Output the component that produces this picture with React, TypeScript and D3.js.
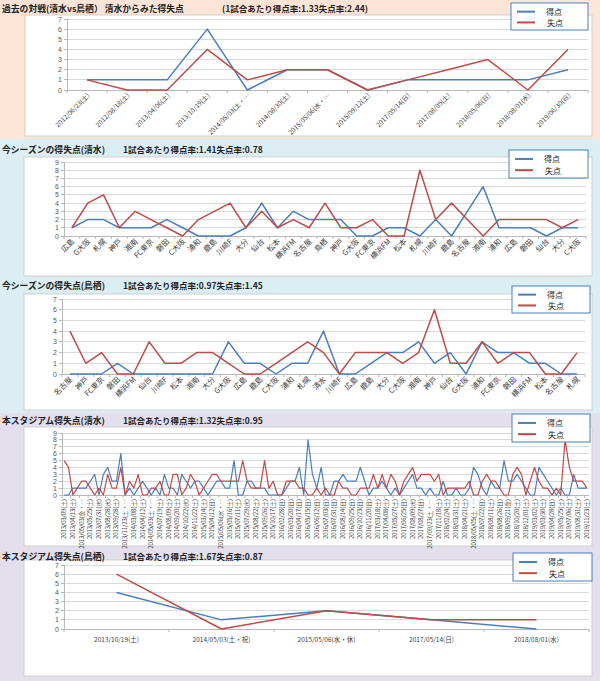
import React from "react";
import * as d3 from "d3";

const BLUE = "#4a7ebb";
const RED = "#be4b48";
const FONT = "'Noto Sans CJK JP', 'Noto Sans', sans-serif";

// ---------- Panel 1: past matches ----------
const p1Dates = [
  "2012/06/23(土)", "2012/08/18(土)", "2013/04/06(土)", "2013/10/19(土)", "2014/05/03(土・…",
  "2014/08/30(土)", "2015/05/06(水・…", "2015/09/12(土)", "2017/05/14(日)", "2017/08/05(土)",
  "2018/05/06(日)", "2018/08/01(水)", "2019/06/30(日)",
];
const p1Scored = [1, 1, 1, 6, 0, 2, 2, 0, 1, 1, 1, 1, 2];
const p1Conceded = [1, 0, 0, 4, 1, 2, 2, 0, 1, 2, 3, 0, 4];

// ---------- Panel 2: this season Shimizu ----------
const p2Teams = [
  "広島", "G大阪", "札幌", "神戸", "湘南", "FC東京", "磐田", "C大阪", "浦和", "鹿島", "川崎F",
  "大分", "仙台", "松本", "横浜FM", "名古屋", "鳥栖", "神戸", "G大阪", "FC東京", "横浜FM", "松本",
  "札幌", "川崎F", "鹿島", "名古屋", "湘南", "浦和", "広島", "磐田", "仙台", "大分", "C大阪",
];
const p2Scored = [1, 2, 2, 1, 1, 1, 2, 1, 0, 0, 0, 1, 4, 1, 3, 2, 2, 2, 0, 0, 1, 1, 0, 2, 0, 3, 6, 1, 1, 1, 0, 1, 1];
const p2Conceded = [1, 4, 5, 1, 3, 2, 1, 0, 2, 3, 4, 1, 3, 1, 2, 1, 4, 1, 1, 2, 0, 0, 8, 2, 4, 2, 0, 2, 2, 2, 2, 1, 2];

// ---------- Panel 3: this season Tosu ----------
const p3Teams = [
  "名古屋", "神戸", "FC東京", "磐田", "横浜FM", "仙台", "川崎F", "松本", "湘南", "大分", "G大阪",
  "広島", "鹿島", "C大阪", "浦和", "札幌", "清水", "川崎F", "広島", "鹿島", "大分", "C大阪",
  "湘南", "神戸", "仙台", "G大阪", "浦和", "FC東京", "磐田", "横浜FM", "松本", "名古屋", "札幌",
];
const p3Scored = [0, 0, 0, 1, 0, 0, 0, 0, 0, 0, 3, 1, 1, 0, 1, 1, 4, 0, 0, 1, 2, 2, 3, 1, 2, 0, 3, 2, 2, 1, 1, 0, 0];
const p3Conceded = [4, 1, 2, 0, 0, 3, 1, 1, 2, 2, 1, 0, 0, 1, 2, 3, 2, 0, 2, 2, 2, 1, 2, 6, 1, 1, 3, 1, 2, 2, 0, 0, 2];

// ---------- Panel 4: this stadium (Shimizu) ----------
const p4Dates = [
  "2013/03/09(土)", "2013/04/13(土)", "2013/05/03(金・…", "2013/05/25(土)", "2013/07/31(水)",
  "2013/08/28(水)", "2013/09/28(土)", "2013/11/23(土・…", "2014/03/08(土)", "2014/04/12(土)",
  "2014/05/03(土・…", "2014/07/19(土)", "2014/08/09(土)", "2014/09/20(土)", "2014/10/22(水)",
  "2014/11/22(土)", "2015/03/14(土)", "2015/04/12(日)", "2015/05/06(水・…", "2015/05/16(土)",
  "2015/07/11(土)", "2015/07/29(水)", "2015/08/22(土)", "2015/09/26(土)", "2015/10/17(土)",
  "2016/02/28(日)", "2016/03/20(日)", "2016/04/17(日)", "2016/05/15(日)", "2016/06/12(日)",
  "2016/07/03(日)", "2016/07/31(日)", "2016/08/14(日)", "2016/09/25(日)", "2016/10/23(日)",
  "2016/11/20(日)", "2017/03/18(土)", "2017/04/08(土)", "2017/05/27(土)", "2017/06/25(日)",
  "2017/08/09(水)", "2017/08/27(日)", "2017/09/23(土・…", "2017/11/18(土)", "2018/02/24(土)",
  "2018/03/31(土)", "2018/04/21(土)", "2018/05/05(土・…", "2018/07/22(日)", "2018/08/11(土)",
  "2018/08/26(日)", "2018/09/21(金)", "2018/10/20(土)", "2018/12/01(土)", "2019/03/02(土)",
  "2019/03/30(土)", "2019/04/28(日)", "2019/05/25(土)", "2019/07/06(土)", "2019/08/31(土)",
  "2019/11/23(土)",
];
const p4Scored = [
  0, 0, 1, 1, 1, 1, 2, 3, 0, 3, 4, 2, 2, 6, 0, 1, 0, 1, 2, 1, 0, 1, 0, 3, 1, 1, 0, 3, 2, 1, 2,
  2, 1, 0, 1, 2, 2, 1, 1, 5, 0, 0, 2, 2, 1, 1, 1, 0, 0, 0, 0, 1, 2, 2, 4, 0, 8, 3, 1, 4, 0,
  0, 2, 2, 3, 2, 2, 2, 4, 2, 0, 1, 1, 2, 1, 0, 1,
  0, 1, 2, 3, 1, 1, 0, 1, 0, 0, 2, 0, 0, 1, 0, 0, 1, 4, 3, 1, 0, 2, 1, 1, 5, 2, 2, 3, 2, 1,
  0, 0, 4, 3, 2, 1, 0, 1, 0, 0, 3, 1, 1, 1,
];
const p4Conceded = [
  5, 4, 0, 1, 2, 2, 1, 0, 1, 0, 3, 1, 1, 4, 0, 2, 1, 3, 0, 0, 1, 1, 2, 0, 0, 3, 3, 0, 1, 3, 2,
  0, 1, 2, 3, 3, 2, 2, 2, 2, 2, 5, 2, 1, 1, 1, 5, 1, 2, 0, 0, 2, 2, 2, 1, 1, 0, 0, 1, 0, 1,
  0, 0, 2, 1, 1, 0, 0, 1, 1, 1, 3, 1, 3, 1, 3, 2,
  0, 2, 3, 4, 2, 3, 3, 3, 2, 3, 0, 1, 1, 1, 1, 1, 2, 0, 0, 2, 3, 2, 2, 1, 0, 0, 3, 4, 3, 0,
  2, 4, 2, 1, 1, 0, 1, 0, 8, 4, 2, 2, 2, 1,
];

// ---------- Panel 5: this stadium (Tosu) ----------
const p5Dates = ["2013/10/19(土)", "2014/05/03(土・祝)", "2015/05/06(水・休)", "2017/05/14(日)", "2018/08/01(水)"];
const p5Scored = [4, 1, 2, 1, 0];
const p5Conceded = [6, 0, 2, 1, 1];

type Mode = "diag" | "vert" | "horiz";

interface ChartProps {
  title: string;
  rate: string;
  rateX: number;
  titleY: number;
  box: [number, number, number, number];
  plotX: [number, number];
  yTop: number;
  yBottom: number;
  yMax: number;
  labels: string[];
  scored: number[];
  conceded: number[];
  mode: Mode;
  labelSize: number;
  legend: [number, number, number, number];
  lineWidth: number;
}

function Chart(p: ChartProps) {
  const n = p.scored.length;
  const x = d3.scaleBand<number>().domain(d3.range(n)).range(p.plotX).padding(0);
  const cx = (i: number) => (x(i) as number) + x.bandwidth() / 2;
  const y = d3.scaleLinear().domain([0, p.yMax]).range([p.yBottom, p.yTop]);
  const line = d3.line<number>().x((_, i) => cx(i)).y((d) => y(d));
  const ticks = d3.range(0, p.yMax + 1);
  const [bx0, by0, bx1, by1] = p.box;
  const [lx, ly, lw, lh] = p.legend;
  return (
    <g>
      <rect x={bx0} y={by0} width={bx1 - bx0} height={by1 - by0} fill="#fff" stroke="#d0d0d0" strokeWidth={1} />
      {ticks.map((t) => (
        <line key={"g" + t} x1={p.plotX[0]} x2={p.plotX[1]} y1={y(t)} y2={y(t)}
          stroke={t === 0 ? "#b8b8b8" : "#d9d9d9"} strokeWidth={1} shapeRendering="crispEdges" />
      ))}
      <line x1={p.plotX[0]} x2={p.plotX[0]} y1={p.yTop} y2={p.yBottom} stroke="#b8b8b8" shapeRendering="crispEdges" />
      {ticks.map((t) => (
        <line key={"yt" + t} x1={p.plotX[0] - 3} x2={p.plotX[0]} y1={y(t)} y2={y(t)} stroke="#b8b8b8" shapeRendering="crispEdges" />
      ))}
      {ticks.map((t) => (
        <text key={"yl" + t} x={p.plotX[0] - 5} y={y(t)} fontSize={7} fill="#595959" textAnchor="end"
          dominantBaseline="central" fontFamily="'Liberation Sans', Arial, sans-serif">{t}</text>
      ))}
      {d3.range(n + 1).filter((i) => p.mode !== "vert" || i % 2 === 0).map((i) => {
        const xx = p.plotX[0] + i * x.bandwidth();
        return <line key={"xt" + i} x1={xx} x2={xx} y1={p.yBottom} y2={p.yBottom + 3} stroke="#b8b8b8" />;
      })}
      <path d={line(p.scored) || ""} fill="none" stroke={BLUE} strokeWidth={p.lineWidth} strokeLinejoin="round" />
      <path d={line(p.conceded) || ""} fill="none" stroke={RED} strokeWidth={p.lineWidth} strokeLinejoin="round" />
      {p.labels.map((lab, i) => {
        if (!lab) return null;
        const xx = cx(i);
        if (p.mode === "diag")
          return (
            <text key={"xl" + i} transform={`translate(${xx + 3},${p.yBottom + 6}) rotate(-45)`}
              fontSize={p.labelSize} fill="#404040" textAnchor="end" fontFamily={FONT}>{lab}</text>
          );
        if (p.mode === "vert")
          return (
            <text key={"xl" + i} transform={`translate(${xx + 2},${p.yBottom + 4}) rotate(-90)`}
              fontSize={p.labelSize} fill="#404040" textAnchor="end" fontFamily={FONT}>{lab}</text>
          );
        return (
          <text key={"xl" + i} x={xx} y={p.yBottom + 13} fontSize={p.labelSize} fill="#404040"
            textAnchor="middle" fontFamily={FONT}>{lab}</text>
        );
      })}
      <text x={2} y={p.titleY} fontSize={8.8} fontWeight="bold" fill="#222" dominantBaseline="central" fontFamily={FONT}>{p.title}</text>
      <text x={p.rateX} y={p.titleY} fontSize={8.5} fontWeight="bold" fill="#222" dominantBaseline="central" fontFamily={FONT}>{p.rate}</text>
      <rect x={lx} y={ly} width={lw} height={lh} fill="#fff" stroke="#4a7ebb" strokeWidth={1} />
      <line x1={lx + 6} x2={lx + 24} y1={ly + lh * 0.32} y2={ly + lh * 0.32} stroke={BLUE} strokeWidth={2} />
      <line x1={lx + 6} x2={lx + 24} y1={ly + lh * 0.72} y2={ly + lh * 0.72} stroke={RED} strokeWidth={2} />
      <text x={lx + 35} y={ly + lh * 0.32} fontSize={8} fill="#222" dominantBaseline="central" fontFamily={FONT}>得点</text>
      <text x={lx + 36} y={ly + lh * 0.72} fontSize={8} fill="#222" dominantBaseline="central" fontFamily={FONT}>失点</text>
    </g>
  );
}

export default function App() {
  const p4Labels = d3.range(p4Scored.length).map((i) => (i % 2 === 0 ? p4Dates[i / 2] || "" : ""));
  return (
    <div style={{ position: "absolute", left: 0, top: 0 }}>
      <svg width={600} height={681} style={{ display: "block" }}>
        <rect x={0} y={0} width={600} height={139} fill="#fce4d6" />
        <rect x={0} y={139} width={600} height={274} fill="#daeef3" />
        <rect x={0} y={413} width={600} height={268} fill="#e4dfec" />
        <Chart title="過去の対戦(清水vs鳥栖） 清水からみた得失点" rate="(1試合あたり得点率:1.33失点率:2.44)" rateX={222}
          titleY={8} box={[25, 15, 592, 136]} plotX={[67, 588]} yTop={19} yBottom={90} yMax={7}
          labels={p1Dates} scored={p1Scored} conceded={p1Conceded} mode="diag" labelSize={6.5}
          legend={[511, 3, 77, 27]} lineWidth={1.5} />
        <Chart title="今シーズンの得失点(清水)" rate="1試合あたり得点率:1.41失点率:0.78" rateX={123}
          titleY={149} box={[24, 157, 592, 276]} plotX={[64, 586]} yTop={162} yBottom={236} yMax={9}
          labels={p2Teams} scored={p2Scored} conceded={p2Conceded} mode="diag" labelSize={7.5}
          legend={[509, 150, 79, 28]} lineWidth={1.5} />
        <Chart title="今シーズンの得失点(鳥栖)" rate="1試合あたり得点率:0.97失点率:1.45" rateX={123}
          titleY={285} box={[24, 294, 592, 410]} plotX={[62, 585]} yTop={299} yBottom={374} yMax={7}
          labels={p3Teams} scored={p3Scored} conceded={p3Conceded} mode="diag" labelSize={7.5}
          legend={[512, 286, 78, 27]} lineWidth={1.5} />
        <Chart title="本スタジアム得失点(清水)" rate="1試合あたり得点率:1.32失点率:0.95" rateX={123}
          titleY={420} box={[24, 427, 592, 546]} plotX={[62, 589]} yTop={433} yBottom={495} yMax={9}
          labels={p4Labels} scored={p4Scored} conceded={p4Conceded} mode="vert" labelSize={5.8}
          legend={[512, 414, 78, 28]} lineWidth={1.2} />
        <Chart title="本スタジアム得失点(鳥栖)" rate="1試合あたり得点率:1.67失点率:0.87" rateX={123}
          titleY={556} box={[24, 560, 592, 676]} plotX={[64, 589]} yTop={565} yBottom={629} yMax={7}
          labels={p5Dates} scored={p5Scored} conceded={p5Conceded} mode="horiz" labelSize={6.5}
          legend={[513, 553, 79, 28]} lineWidth={1.5} />
      </svg>
    </div>
  );
}
